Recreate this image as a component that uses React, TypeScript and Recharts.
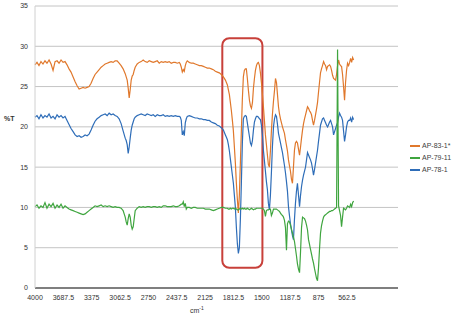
import React from 'react';
import { LineChart, Line, XAxis, YAxis, CartesianGrid, ReferenceArea, Legend } from 'recharts';

// Wavenumbers (cm-1)
const wavenumbers = [
  4000, 3978, 3956, 3934, 3912, 3890, 3868, 3845, 3823, 3801, 3779, 3757, 3735, 3713, 3691, 3669, 3647, 3625, 3603, 3580,
  3558, 3536, 3514, 3492, 3470, 3448, 3426, 3404, 3382, 3360, 3338, 3316, 3293, 3271, 3249, 3227, 3205, 3183, 3161, 3139,
  3117, 3095, 3073, 3051, 3029, 3006, 2995, 2984, 2973, 2962, 2951, 2940, 2929, 2918, 2907, 2896, 2874, 2852, 2830, 2808,
  2786, 2764, 2741, 2719, 2697, 2675, 2653, 2631, 2609, 2587, 2565, 2543, 2521, 2499, 2476, 2454, 2432, 2410, 2399, 2388,
  2377, 2366, 2355, 2344, 2333, 2322, 2300, 2278, 2256, 2234, 2212, 2189, 2167, 2145, 2123, 2101, 2079, 2057, 2035, 2013,
  1991, 1969, 1947, 1924, 1902, 1891, 1880, 1869, 1858, 1847, 1836, 1825, 1814, 1803, 1792, 1781, 1770, 1759, 1748, 1737,
  1726, 1715, 1704, 1693, 1682, 1671, 1660, 1648, 1637, 1626, 1615, 1604, 1593, 1582, 1571, 1560, 1549, 1538, 1527, 1516,
  1505, 1494, 1483, 1472, 1461, 1450, 1439, 1428, 1417, 1406, 1395, 1384, 1372, 1361, 1350, 1339, 1328, 1317, 1306, 1295,
  1284, 1273, 1262, 1251, 1240, 1229, 1218, 1207, 1196, 1185, 1174, 1163, 1152, 1141, 1130, 1119, 1108, 1096, 1085, 1074,
  1063, 1052, 1041, 1030, 1019, 1008, 997, 986, 975, 964, 953, 942, 931, 920, 909, 898, 887, 876, 865, 854,
  843, 832, 820, 809, 798, 787, 776, 765, 754, 743, 732, 721, 710, 699, 688, 677, 666, 655, 644, 633,
  622, 611, 600, 589, 578, 567, 556, 544, 533, 522, 511, 500, 489,
];

// AP-83-1* (%T)
const ap831 = [
  27.7, 28.0, 27.6, 28.1, 27.8, 28.2, 27.9, 28.3, 27.8, 27.0, 28.1, 28.2, 27.9, 28.3, 28.0, 28.1, 27.7, 27.2, 26.8, 26.2,
  25.6, 25.1, 24.7, 24.8, 24.9, 24.8, 24.9, 25.0, 25.4, 26.0, 26.5, 26.8, 27.1, 27.4, 27.6, 27.8, 27.9, 28.0, 28.1, 28.0,
  28.2, 28.2, 27.9, 27.6, 27.2, 26.6, 26.2, 25.8, 24.8, 23.6, 24.6, 25.8, 26.3, 26.5, 27.0, 27.4, 27.8, 28.0, 28.1, 28.3,
  28.1, 28.0, 28.2, 28.1, 28.0, 28.1, 28.2, 27.9, 28.1, 28.0, 28.1, 28.0, 28.1, 27.9, 28.0, 28.0, 27.9, 28.0, 27.8, 27.4,
  26.8, 27.1, 26.9, 27.6, 28.0, 28.2, 28.0, 27.9, 27.9, 27.8, 27.7, 27.6, 27.6, 27.5, 27.4, 27.3, 27.3, 27.2, 27.1, 26.9,
  26.8, 26.7, 26.5, 26.2, 25.8, 25.5, 25.2, 24.6, 24.0, 23.0, 22.0, 20.8, 19.5, 17.5, 15.5, 13.0, 11.0, 9.3, 11.5, 15.5,
  19.5, 23.5, 26.2, 27.0, 27.2, 27.2, 26.0, 24.5, 23.3, 22.6, 22.3, 23.0, 24.8, 26.0, 27.0, 27.6, 27.9, 28.0, 27.6, 26.7,
  25.5, 24.0, 22.5, 20.8, 19.0, 17.8, 16.5, 15.3, 15.0, 17.0, 19.5, 21.5, 23.2, 24.5, 26.0, 25.5, 24.0, 22.5, 21.6, 21.0,
  20.5, 20.0, 19.6, 19.2, 18.4, 17.7, 17.0, 15.9, 15.2, 14.5, 13.5, 13.0, 15.0, 17.1, 18.0, 18.2, 18.0, 17.2, 16.5, 17.5,
  18.6, 19.6, 20.4, 21.0, 21.5, 22.0, 22.5, 22.3, 22.0, 21.8, 21.5, 20.8, 20.2, 20.8, 21.5, 22.2, 23.0, 24.3, 25.5, 26.7,
  27.2, 27.6, 28.1, 27.8, 27.6, 27.1, 27.5, 27.6, 27.7, 27.5, 27.0, 26.4, 26.0, 25.9, 25.8, 26.5, 27.6, 28.3, 27.8, 27.6,
  27.5, 26.5, 25.0, 23.3, 25.5, 27.0, 27.9, 27.6, 28.0, 28.5, 28.0, 28.6, 28.3,
];

// AP-78-1 (%T)
const ap781 = [
  21.2, 21.4, 21.0, 21.5, 21.1, 21.4, 21.2, 21.6, 21.1, 21.3, 21.0, 21.5, 21.2, 21.4, 21.1, 21.3, 20.8, 20.3, 19.8, 19.4,
  19.0, 18.8, 18.9, 18.7, 18.8, 19.0, 18.9, 19.1, 19.6, 20.2, 20.7, 21.0, 21.2, 21.4, 21.5, 21.6, 21.4, 21.7, 21.5, 21.6,
  21.4, 21.3, 21.0, 20.4, 19.5, 18.6, 18.3, 17.8, 16.7, 17.5, 18.6, 19.6, 20.2, 20.6, 21.0, 21.2, 21.4, 21.5, 21.6, 21.5,
  21.4, 21.6, 21.5, 21.4, 21.5, 21.3, 21.5, 21.4, 21.4, 21.5, 21.3, 21.4, 21.3, 21.4, 21.3, 21.4, 21.3, 21.3, 21.2, 20.8,
  19.0, 19.4, 18.9, 20.5, 21.0, 21.3, 21.4, 21.3, 21.2, 21.1, 21.1, 21.0, 21.0, 20.9, 20.9, 20.8, 20.8, 20.6, 20.5, 20.4,
  20.2, 20.1, 19.9, 19.6, 19.0, 18.7, 18.4, 17.8, 17.0, 16.0, 15.0, 14.0, 13.0, 11.5, 10.0, 7.5, 5.5, 4.3, 5.0, 8.5,
  13.0, 18.0, 21.0, 21.3, 21.4, 21.3, 20.5, 19.6, 18.8, 18.0, 17.7, 18.3, 19.6, 20.6, 21.0, 21.3, 21.3, 21.2, 21.0, 20.9,
  20.2, 19.0, 17.1, 15.8, 14.5, 13.2, 12.2, 10.5, 9.7, 11.5, 14.3, 17.5, 20.0, 21.0, 21.5, 21.3, 20.3, 19.2, 18.6, 18.0,
  17.4, 16.8, 16.0, 15.2, 14.3, 13.2, 12.0, 10.1, 9.0, 8.0, 7.2, 6.5, 6.0, 8.5, 10.5, 12.0, 13.0, 11.5, 10.1, 11.5,
  12.6, 13.4, 14.0, 14.5, 15.0, 15.9, 16.8, 16.5, 16.2, 15.9, 15.5, 14.8, 14.0, 14.7, 15.5, 16.3, 17.1, 18.2, 19.2, 20.2,
  20.6, 21.0, 21.1, 20.8, 20.5, 20.2, 20.0, 20.3, 20.6, 20.8, 20.4, 20.0, 19.0, 19.4, 19.8, 20.2, 20.5, 21.2, 21.7, 21.4,
  21.2, 20.8, 19.5, 18.2, 19.0, 20.0, 20.6, 20.8, 20.8, 21.1, 20.6, 21.2, 20.9,
];

// AP-79-11 (%T)
const ap7911 = [
  10.1, 10.3, 9.9, 10.2, 10.0, 10.6, 9.9, 10.4, 10.1, 10.5, 9.9, 10.3, 10.0, 10.4, 9.9, 10.2, 10.0, 9.8, 9.7, 9.6,
  9.5, 9.4, 9.3, 9.2, 9.1, 9.2, 9.4, 9.6, 9.8, 10.0, 10.2, 10.1, 10.2, 10.3, 10.1, 10.2, 10.1, 10.2, 10.1, 10.0,
  10.1, 10.0, 10.0, 9.9, 9.6, 8.8, 8.2, 7.8, 8.6, 9.2, 8.8, 7.8, 7.3, 7.6, 8.6, 9.6, 9.9, 10.1, 10.0, 10.1,
  10.0, 10.1, 10.1, 10.0, 10.1, 10.1, 10.0, 10.1, 10.0, 10.2, 10.2, 10.1, 10.1, 10.1, 10.2, 10.1, 10.1, 10.2, 10.3, 10.4,
  10.4, 10.7, 10.1, 10.5, 9.8, 10.0, 10.0, 9.9, 10.0, 10.0, 9.9, 9.9, 9.9, 9.9, 9.8, 9.8, 9.8, 9.7, 9.6, 9.7,
  9.8, 9.9, 10.0, 10.0, 9.9, 9.9, 9.9, 9.8, 9.8, 9.9, 9.8, 9.9, 9.9, 9.8, 9.9, 9.8, 9.7, 9.7, 9.8, 9.9,
  9.8, 9.9, 9.8, 9.9, 9.8, 9.8, 9.9, 9.8, 9.7, 9.8, 9.9, 9.8, 9.7, 9.8, 9.8, 9.9, 9.9, 9.9, 9.9, 9.9,
  9.9, 9.9, 9.8, 9.6, 8.9, 9.6, 9.7, 9.7, 9.8, 9.8, 9.0, 9.3, 9.8, 9.8, 9.8, 9.8, 9.7, 9.6, 9.5, 9.3,
  9.1, 9.0, 8.8, 8.4, 7.5, 4.7, 8.0, 8.3, 8.2, 7.8, 7.3, 6.8, 6.3, 5.8, 4.9, 4.0, 3.0, 2.3, 1.9, 4.5,
  7.5, 8.8, 8.7, 8.6, 8.3, 7.8, 7.2, 6.0, 5.4, 4.8, 4.2, 3.6, 3.1, 2.4, 1.8, 1.2, 0.9, 2.5, 4.8, 6.8,
  7.7, 8.3, 8.8, 9.0, 9.1, 9.2, 9.3, 9.4, 9.5, 9.5, 9.6, 9.6, 9.7, 9.8, 9.9, 10.0, 29.6, 10.2, 9.6, 9.0,
  7.6, 8.8, 9.9, 9.8, 9.7, 9.9, 10.2, 10.1, 10.0, 10.4, 10.1, 10.6, 10.8,
];

const xTicks = [4000, 3687.5, 3375, 3062.5, 2750, 2437.5, 2125, 1812.5, 1500, 1187.5, 875, 562.5];
const yTicks = [0, 5, 10, 15, 20, 25, 30, 35];

// Highlighted carbonyl region (red box)
const boxX = [1936, 1494];
const boxY = [2.5, 31];

const seriesNames = ['AP-83-1*', 'AP-79-11', 'AP-78-1'];
const seriesColors = ['#E0782C', '#3FA53F', '#2E6DB8'];

const data = wavenumbers.map((wn, i) => ({
  wn,
  ap831: ap831[i],
  ap7911: ap7911[i],
  ap781: ap781[i],
}));

const FONT = '"Liberation Sans", Arial, sans-serif';

const renderLegend = () => (
  <div style={{ fontFamily: FONT, fontSize: 7, color: '#404040', lineHeight: '12px' }}>
    {seriesNames.map((name, i) => (
      <div key={name} style={{ display: 'flex', alignItems: 'center', whiteSpace: 'nowrap' }}>
        <span style={{ display: 'inline-block', width: 10, height: 1.5, background: seriesColors[i], marginRight: 2 }} />
        <span>{name}</span>
      </div>
    ))}
  </div>
);

const RedBox = (props: any) => (
  <rect
    x={props.x}
    y={props.y}
    width={props.width}
    height={props.height}
    rx={7}
    ry={7}
    fill="none"
    stroke="#C8403A"
    strokeWidth={2}
  />
);

export default function App() {
  return (
    <div style={{ position: 'absolute', left: 0, top: 0, width: 455, height: 317, background: '#fff' }}>
      <LineChart width={455} height={317} data={data} margin={{ top: 6, right: 57, bottom: 9, left: 0 }}>
        <CartesianGrid vertical={false} stroke="#C4C4C4" strokeWidth={1} />
        <XAxis
          dataKey="wn"
          type="number"
          domain={[0, 4000]}
          reversed
          ticks={xTicks}
          interval={0}
          height={20}
          tickLine={false}
          axisLine={{ stroke: '#7F7F7F', strokeWidth: 2 }}
          tick={{ fontSize: 7, fill: '#333', fontFamily: FONT }}
          tickSize={5}
          label={{
            content: () => (
              <text x={190} y={313} fontSize={7} fontFamily={FONT} fill="#333">
                cm
                <tspan dy={-3} fontSize={5}>-1</tspan>
              </text>
            ),
          }}
        />
        <YAxis
          type="number"
          domain={[0, 35]}
          ticks={yTicks}
          interval={0}
          width={35}
          tickLine={false}
          axisLine={{ stroke: '#D0D0D0' }}
          tick={{ fontSize: 7, fill: '#333', fontFamily: FONT }}
          tickSize={5}
          label={{
            content: () => (
              <text x={4} y={121} fontSize={7} fontWeight="bold" fontFamily={FONT} fill="#333">
                %T
              </text>
            ),
          }}
        />
        <ReferenceArea x1={boxX[0]} x2={boxX[1]} y1={boxY[0]} y2={boxY[1]} shape={RedBox} />
        <Line type="linear" dataKey="ap831" name={seriesNames[0]} stroke={seriesColors[0]} strokeWidth={1.2} dot={false} isAnimationActive={false} />
        <Line type="linear" dataKey="ap781" name={seriesNames[2]} stroke={seriesColors[2]} strokeWidth={1.2} dot={false} isAnimationActive={false} />
        <Line type="linear" dataKey="ap7911" name={seriesNames[1]} stroke={seriesColors[1]} strokeWidth={1.2} dot={false} isAnimationActive={false} />
        <Legend
          layout="horizontal"
          verticalAlign="middle"
          align="center"
          content={renderLegend}
          wrapperStyle={{ left: 410, top: 140, width: 50 }}
        />
      </LineChart>
    </div>
  );
}
